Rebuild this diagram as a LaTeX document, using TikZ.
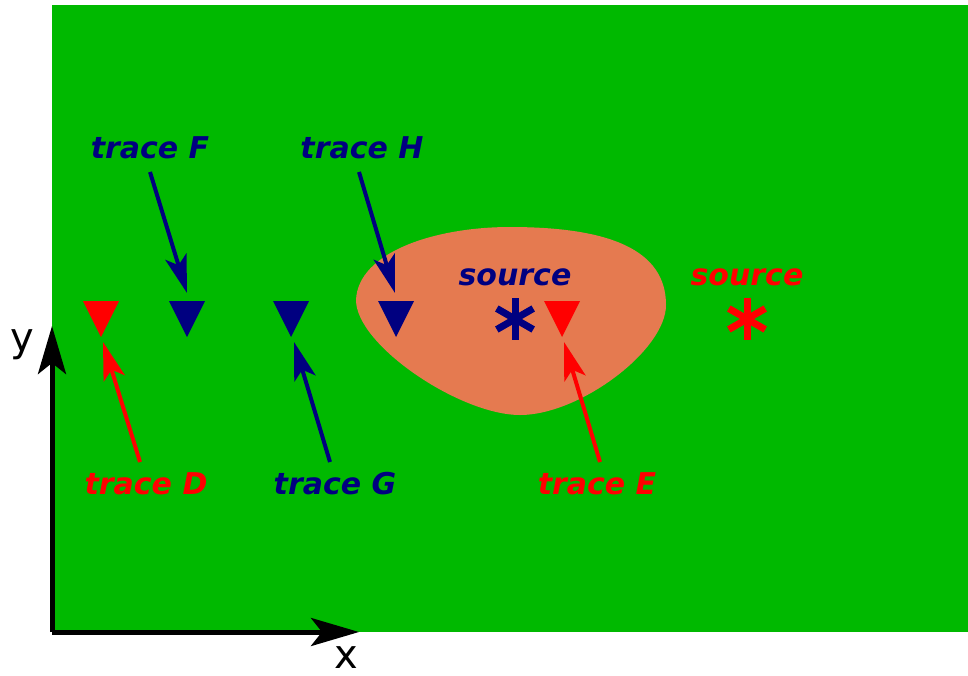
\documentclass[tikz,border=0pt]{standalone}
\usepackage{fontspec}
\setmainfont{DejaVu Sans}
\usetikzlibrary{arrows.meta}
\definecolor{bg}{RGB}{0,185,0}
\definecolor{blob}{RGB}{229,122,80}
\definecolor{navy}{RGB}{0,0,128}
\definecolor{rd}{RGB}{255,0,0}
\begin{document}
\begin{tikzpicture}[x=1pt,y=-1pt,
  lbl/.style={font=\fontsize{30}{36}\selectfont\bfseries\itshape, inner sep=0pt},
  axlbl/.style={font=\fontsize{40}{48}\selectfont, inner sep=0pt},
  ptr/.style={line width=4pt, -{Stealth[length=38pt,width=22pt,inset=9pt]}},
  axisline/.style={line width=5pt, -{Stealth[length=48pt,width=28pt,inset=11pt]}},
  star/.style={line width=7pt}]
\useasboundingbox (0,0) rectangle (968,675);
\fill[bg] (52,5) rectangle (968,632);
% orange region
\fill[blob] (356,300) .. controls (358,252) and (435,227) .. (510,227)
  .. controls (610,227) and (666,250) .. (666,305)
  .. controls (666,350) and (580,415) .. (520,415)
  .. controls (460,415) and (356,345) .. (356,300) -- cycle;
% axes
\coordinate (O) at (52,632);
\coordinate (Ytip) at (52,326);
\coordinate (Xtip) at (359,632);
\draw[axisline] (O) -- (Ytip);
\draw[axisline] (O) -- (Xtip);
\node[axlbl] (ylab) at (22,345) {y};
\node[axlbl] (xlab) at (346,658) {x};
% triangle apexes
\coordinate (tD) at (101,337);
\coordinate (tF) at (187,337);
\coordinate (tG) at (291,337);
\coordinate (tH) at (396,337);
\coordinate (tE) at (562,337);
\foreach \t/\c in {tD/rd,tF/navy,tG/navy,tH/navy,tE/rd}
  \fill[\c] (\t) -- ++(-18,-36) -- ++(36,0) -- cycle;
% sources
\coordinate (s1) at (515,319);
\coordinate (s2) at (747,319);
\foreach \s/\c in {s1/navy,s2/rd}{
  \draw[star,\c] (\s) ++(0,-21) -- ++(0,42);
  \draw[star,\c] (\s) ++(-18.2,-10.5) -- ++(36.4,21);
  \draw[star,\c] (\s) ++(-18.2,10.5) -- ++(36.4,-21);
}
% labels
\node[lbl,navy] (lF) at (150,148) {trace F};
\node[lbl,navy] (lH) at (362,148) {trace H};
\node[lbl,navy] (lS1) at (515,277) {source};
\node[lbl,rd] (lS2) at (747,277) {source};
\node[lbl,rd] (lD) at (146,484) {trace D};
\node[lbl,navy] (lG) at (335,484) {trace G};
\node[lbl,rd] (lE) at (597,484) {trace E};
% pointers
\coordinate (Ftail) at (150,172); \coordinate (Fend) at (187,293);
\coordinate (Htail) at (359,172); \coordinate (Hend) at (395,293);
\coordinate (Dtail) at (140,462); \coordinate (Dend) at (103,342);
\coordinate (Gtail) at (330,462); \coordinate (Gend) at (294,342);
\coordinate (Etail) at (600,462); \coordinate (Eend) at (564,342);
\draw[ptr,navy] (Ftail) -- (Fend);
\draw[ptr,navy] (Htail) -- (Hend);
\draw[ptr,rd] (Dtail) -- (Dend);
\draw[ptr,navy] (Gtail) -- (Gend);
\draw[ptr,rd] (Etail) -- (Eend);
\end{tikzpicture}
\end{document}
